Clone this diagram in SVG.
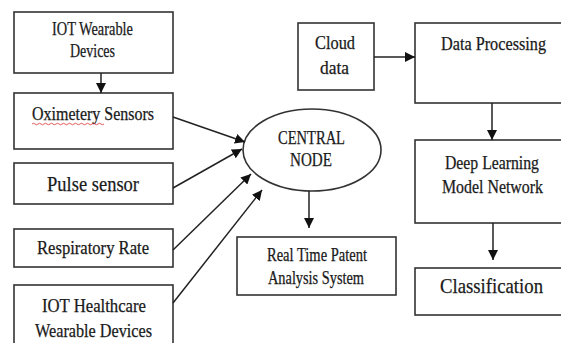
<svg xmlns="http://www.w3.org/2000/svg" width="561" height="343" viewBox="0 0 561 343">
<defs>
<marker id="ah" markerUnits="userSpaceOnUse" markerWidth="10" markerHeight="10" viewBox="0 0 10 10" refX="10" refY="5" orient="auto">
<path d="M0,0 L10,5 L0,10 Z" fill="#111"/>
</marker>
<style>
.box{fill:#fff;stroke:#333;stroke-width:1.6}
.t{font-family:"Liberation Serif","Times New Roman",serif;font-size:18px;fill:#1a1a1a;stroke:#1a1a1a;stroke-width:0.25;text-anchor:start}
.big{font-size:22px}
.c{stroke:#222;stroke-width:1.5;fill:none;marker-end:url(#ah)}
</style>
</defs>
<rect width="561" height="343" fill="#fff"/>
<g id="n-iot-wearable">
<rect class="box" x="14" y="12" width="159" height="61"/>
<text class="t" x="52" y="35" textLength="81" lengthAdjust="spacingAndGlyphs">IOT Wearable</text>
<text class="t" x="70" y="57" textLength="45" lengthAdjust="spacingAndGlyphs">Devices</text>
</g>
<g id="n-oximetery">
<rect class="box" x="14" y="93" width="159" height="56"/>
<text class="t" x="32" y="120" textLength="122" lengthAdjust="spacingAndGlyphs">Oximetery Sensors</text>
<path d="M32,124 q1.5,-1.5 3,0 t3,0 t3,0 t3,0 t3,0 t3,0 t3,0 t3,0 t3,0 t3,0 t3,0 t3,0 t3,0 t3,0 t3,0 t3,0 t3,0 t3,0 t3,0 t3,0 t3,0 t3,0 t3,0 t3,0" fill="none" stroke="#e03030" stroke-width="0.8"/>
</g>
<g id="n-pulse">
<rect class="box" x="14" y="163" width="159" height="41"/>
<text class="t big" x="47" y="191" textLength="92" lengthAdjust="spacingAndGlyphs">Pulse sensor</text>
</g>
<g id="n-resp">
<rect class="box" x="14" y="229" width="159" height="38"/>
<text class="t" x="37" y="254" textLength="112" lengthAdjust="spacingAndGlyphs">Respiratory Rate</text>
</g>
<g id="n-iot-health">
<rect class="box" x="14" y="285" width="159" height="70"/>
<text class="t" x="42" y="312" textLength="104" lengthAdjust="spacingAndGlyphs">IOT Healthcare</text>
<text class="t" x="35" y="337" textLength="117" lengthAdjust="spacingAndGlyphs">Wearable Devices</text>
</g>
<g id="n-central">
<ellipse cx="312" cy="150" rx="69" ry="41" fill="#fff" stroke="#333" stroke-width="1.6"/>
<text class="t" x="278" y="144" textLength="67" lengthAdjust="spacingAndGlyphs">CENTRAL</text>
<text class="t" x="290" y="166" textLength="42" lengthAdjust="spacingAndGlyphs">NODE</text>
</g>
<g id="n-realtime">
<rect class="box" x="237" y="237" width="159" height="58"/>
<text class="t" x="267" y="261" textLength="100" lengthAdjust="spacingAndGlyphs">Real Time Patent</text>
<text class="t" x="268" y="284" textLength="96" lengthAdjust="spacingAndGlyphs">Analysis System</text>
</g>
<g id="n-cloud">
<rect class="box" x="298" y="23" width="76" height="67"/>
<text class="t" x="315" y="49" textLength="40" lengthAdjust="spacingAndGlyphs">Cloud</text>
<text class="t" x="320" y="74" textLength="29" lengthAdjust="spacingAndGlyphs">data</text>
</g>
<g id="n-dataproc">
<rect class="box" x="415" y="23" width="160" height="80"/>
<text class="t" x="441" y="50" textLength="105" lengthAdjust="spacingAndGlyphs">Data Processing</text>
</g>
<g id="n-deeplearning">
<rect class="box" x="415" y="140" width="160" height="83"/>
<text class="t" x="445" y="169" textLength="94" lengthAdjust="spacingAndGlyphs">Deep Learning</text>
<text class="t" x="442" y="193" textLength="101" lengthAdjust="spacingAndGlyphs">Model Network</text>
</g>
<g id="n-classification">
<rect class="box" x="415" y="268" width="160" height="47"/>
<text class="t big" x="440" y="293" textLength="103" lengthAdjust="spacingAndGlyphs">Classification</text>
</g>
<g id="connectors">
<line class="c" x1="101" y1="73" x2="101" y2="93"/>
<line class="c" x1="173" y1="117" x2="245" y2="142"/>
<line class="c" x1="173" y1="188" x2="242" y2="149"/>
<line class="c" x1="173" y1="250" x2="251" y2="174"/>
<line class="c" x1="173" y1="303" x2="262" y2="190"/>
<line class="c" x1="309" y1="191" x2="309" y2="228"/>
<line class="c" x1="374" y1="57" x2="415" y2="57"/>
<line class="c" x1="492" y1="103" x2="492" y2="140"/>
<line class="c" x1="493" y1="223" x2="493" y2="260"/>
</g>
</svg>
